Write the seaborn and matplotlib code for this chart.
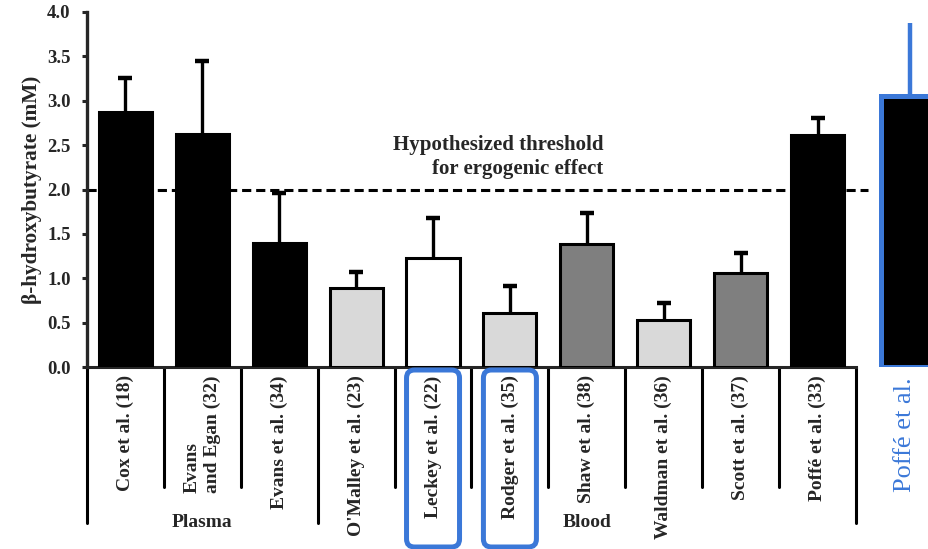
import matplotlib
matplotlib.use("Agg")
import matplotlib.pyplot as plt
import seaborn as sns
import numpy as np
import pandas as pd
from matplotlib.patches import FancyBboxPatch
from matplotlib.transforms import IdentityTransform

# ---- data ----
categories = ["Cox et al. (18)", "Evans\nand Egan (32)", "Evans et al. (34)",
              "O'Malley et al. (23)", "Leckey et al. (22)", "Rodger et al. (35)",
              "Shaw et al. (38)", "Waldman et al. (36)", "Scott et al. (37)",
              "Poffé et al. (33)"]
means = [2.87, 2.62, 1.40, 0.89, 1.23, 0.61, 1.39, 0.53, 1.06, 2.61]
upper = [3.26, 3.45, 1.96, 1.07, 1.68, 0.91, 1.74, 0.72, 1.29, 2.81]
fills = ["black", "black", "black", "#d9d9d9", "white", "#d9d9d9",
         "#7f7f7f", "#d9d9d9", "#7f7f7f", "black"]
groups = ["Plasma", "Blood"]
group_centers = [1, 6]
threshold = 2.0
yticks = [0.0, 0.5, 1.0, 1.5, 2.0, 2.5, 3.0, 3.5, 4.0]
highlight = ["Leckey et al. (22)", "Rodger et al. (35)"]
new_label = "Poffé et al."
new_mean = 3.05
new_upper = 3.88

BLUE = "#3b78d8"

sns.set_style("ticks")
plt.rcParams['font.family'] = ['Liberation Serif', 'DejaVu Serif']

fig = plt.figure(figsize=(9.29, 5.49), dpi=100)
ax = fig.add_axes([87/929, 182/549, 842/929, 355/549])

df = pd.DataFrame({"study": categories, "bhb": means})
sns.barplot(data=df, x="study", y="bhb", hue="study", palette=fills, legend=False,
            edgecolor="black", linewidth=2.2, width=0.69, saturation=1,
            errorbar=None, ax=ax, zorder=3)

x = np.arange(len(categories))
m = np.array(means)
u = np.array(upper)
ax.errorbar(x, m, yerr=[np.zeros_like(m), u - m], fmt='none', ecolor='black',
            elinewidth=2.4, capsize=0, zorder=2)
ax.plot(x, u, ls='none', marker='_', markersize=10, mew=3.2, color='black', zorder=2)

# threshold
ax.plot([-0.5, 9.66], [threshold, threshold], color='black', ls=(0, (3, 1.6)),
        lw=2.2, zorder=1, clip_on=False)
ax.text(6.22, 2.37, "Hypothesized threshold\nfor ergogenic effect", ha='right',
        va='center', multialignment='right', fontweight='bold', fontsize=15,
        linespacing=1.25)

# new highlighted bar
nx = 10.2
ax.bar([nx], [new_mean], width=0.75, color='black', edgecolor=BLUE, linewidth=3.6,
       zorder=3)
ax.plot([nx, nx], [new_mean, new_upper], color=BLUE, lw=3.2, zorder=2,
        solid_capstyle='butt')

ax.set_xlim(-0.5, 10.45)
ax.set_ylim(0, 4)
ax.set_xlabel("")
ax.set_ylabel("β-hydroxybutyrate (mM)", fontweight='bold', fontsize=15.3, labelpad=4)

ax.set_yticks(yticks)
ax.set_yticklabels([f"{v:.1f}" for v in yticks], fontweight='bold', fontsize=13.5)
ax.set_xticks(x)
ax.set_xticklabels(categories, rotation=90, fontweight='bold', fontsize=14,
                   va='top', ha='center', multialignment='left', linespacing=1.2)
ax.tick_params(axis='x', length=0, pad=6)
ax.tick_params(axis='y', direction='out', length=3.8, width=2.2, pad=8)

for s in ['top', 'right']:
    ax.spines[s].set_visible(False)
ax.spines['left'].set_linewidth(2.4)
ax.spines['bottom'].set_linewidth(2.2)
ax.spines['bottom'].set_bounds(-0.5, 9.5)

# dividers
tr = ax.get_xaxis_transform()
for i in range(11):
    xd = i - 0.5
    yend = -0.44 if i in (0, 3, 10) else -0.338
    ax.plot([xd, xd], [0, yend], transform=tr, clip_on=False, color='black', lw=2.2)

for g, c in zip(groups, group_centers):
    ax.text(c, -0.437, g, transform=tr, ha='center', va='center',
            fontweight='bold', fontsize=14)

# highlight boxes around labels
fig.canvas.draw()
for lab in highlight:
    i = categories.index(lab)
    cx = ax.transData.transform((i, 0))[0]
    w = 53
    box = FancyBboxPatch((cx - w/2, 549 - 547), w, 177,
                         boxstyle="round,pad=0,rounding_size=8",
                         transform=IdentityTransform(), fill=False,
                         ec=BLUE, lw=3.6, zorder=5)
    fig.add_artist(box)

fig.text(905/929, 1 - 435/549, new_label, rotation=90, color=BLUE, fontsize=19,
         ha='center', va='center')

fig.savefig("out.png", dpi=100)
